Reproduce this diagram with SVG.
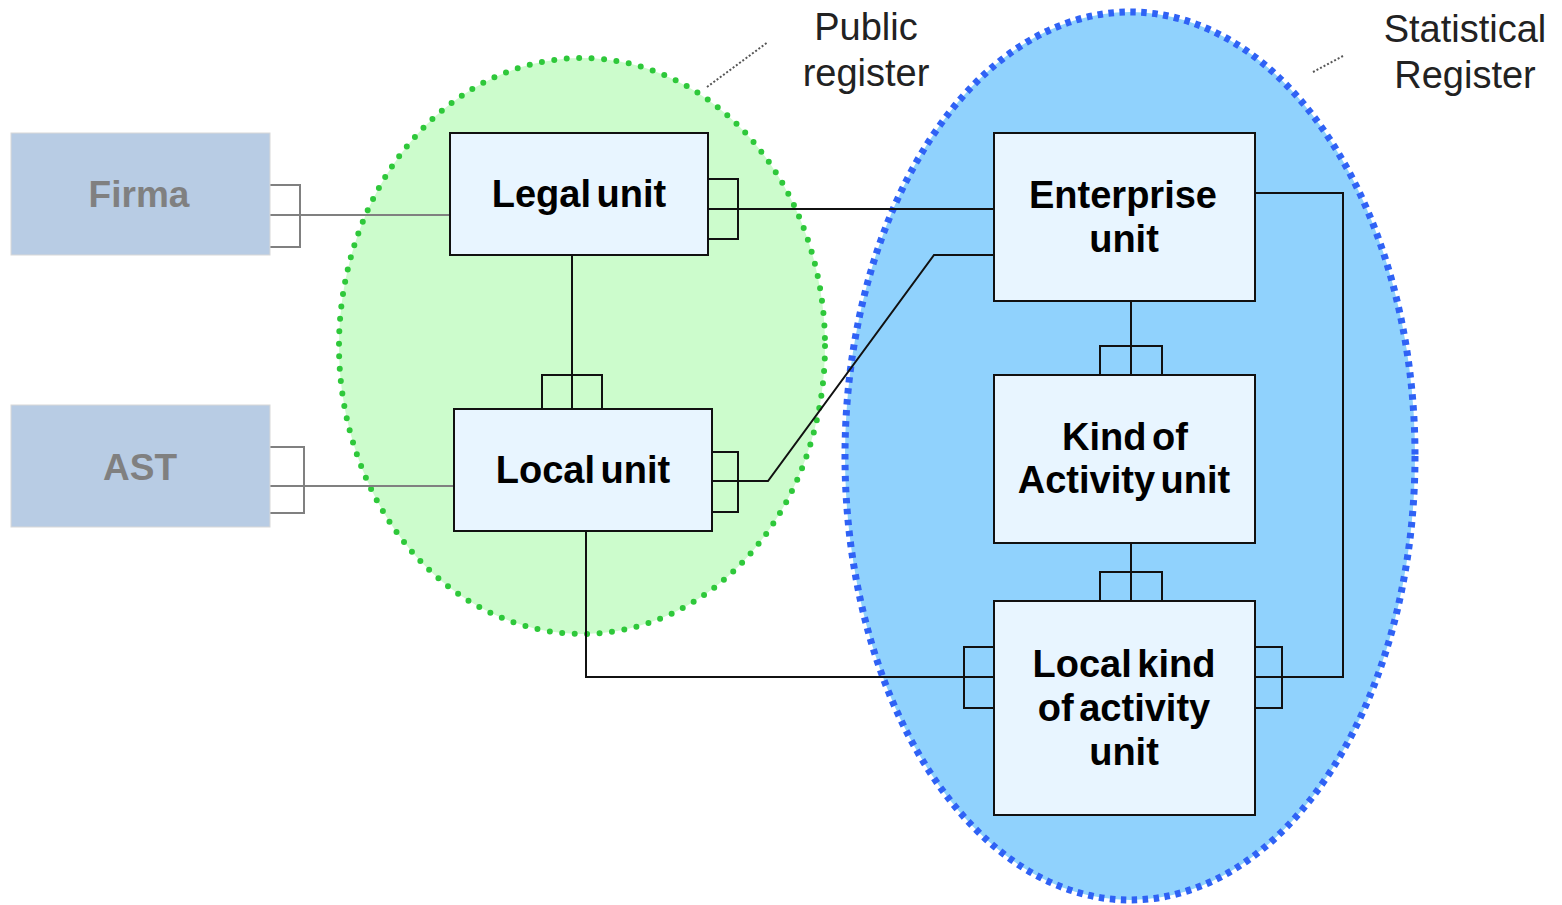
<svg xmlns="http://www.w3.org/2000/svg" width="1562" height="905" viewBox="0 0 1562 905">
<style>
.box{fill:#e8f5ff;stroke:#111;stroke-width:2}
.ext{fill:#b8cce4;stroke:#d8d8d8;stroke-width:1}
.lbl{font-family:"Liberation Sans",Arial,sans-serif;font-weight:bold;font-size:38px;fill:#000;text-anchor:middle;word-spacing:-5px}
.extlbl{font-family:"Liberation Sans",Arial,sans-serif;font-weight:bold;font-size:37px;fill:#808080;text-anchor:middle}
.note{font-family:"Liberation Sans",Arial,sans-serif;font-size:38px;fill:#222;text-anchor:middle}
.ln{fill:none;stroke:#111;stroke-width:2}
.gln{fill:none;stroke:#808080;stroke-width:2}
.lead{fill:none;stroke:#555;stroke-width:2;stroke-dasharray:2 2}
</style>
<rect width="1562" height="905" fill="#fff"/>
<g id="public-register">
<ellipse cx="582" cy="346" rx="243" ry="288" fill="#ccfccc" stroke="#2ec83a" stroke-width="6" stroke-dasharray="0 12.5" stroke-linecap="round"/>
</g>
<g id="statistical-register">
<ellipse cx="1130" cy="456" rx="285" ry="444" fill="#90d2fd" stroke="#2f62f5" stroke-width="7" stroke-dasharray="5.5 5.5"/>
</g>
<g id="labels">
<text class="note" x="866" y="40">Public</text>
<text class="note" x="866" y="86">register</text>
<text class="note" x="1465" y="42">Statistical</text>
<text class="note" x="1465" y="88">Register</text>
<path class="lead" d="M707 87 L768 42"/>
<path class="lead" d="M1313 72 L1343 56"/>
</g>
<g id="connectors">
<path class="gln" d="M270 185 H300 V247 H270 M270 215 H450"/>
<path class="gln" d="M270 447 H304 V513 H270 M270 486 H454"/>
<path class="ln" d="M708 179 H738 V239 H708 M708 209 H994"/>
<path class="ln" d="M572 255 V409 M542 409 V375 H602 V409"/>
<path class="ln" d="M712 452 H738 V512 H712 M712 481 H768 L934 255 H994"/>
<path class="ln" d="M1131 301 V375 M1100 375 V346 H1162 V375"/>
<path class="ln" d="M1131 543 V601 M1100 601 V572 H1162 V601"/>
<path class="ln" d="M586 531 V677 H994 M994 647 H964 V708 H994"/>
<path class="ln" d="M1255 193 H1343 V677 H1255 M1255 647 H1282 V708 H1255"/>
</g>
<g id="firma">
<rect class="ext" x="11" y="133" width="259" height="122"/>
<text class="extlbl" x="139" y="207">Firma</text>
</g>
<g id="ast">
<rect class="ext" x="11" y="405" width="259" height="122"/>
<text class="extlbl" x="140" y="480">AST</text>
</g>
<g id="legal-unit">
<rect class="box" x="450" y="133" width="258" height="122"/>
<text class="lbl" x="579" y="207">Legal unit</text>
</g>
<g id="local-unit">
<rect class="box" x="454" y="409" width="258" height="122"/>
<text class="lbl" x="583" y="483">Local unit</text>
</g>
<g id="enterprise-unit">
<rect class="box" x="994" y="133" width="261" height="168"/>
<text class="lbl" x="1123" y="208">Enterprise</text>
<text class="lbl" x="1124" y="252">unit</text>
</g>
<g id="kind-of-activity-unit">
<rect class="box" x="994" y="375" width="261" height="168"/>
<text class="lbl" x="1125" y="450">Kind of</text>
<text class="lbl" x="1124" y="493">Activity unit</text>
</g>
<g id="local-kind-of-activity-unit">
<rect class="box" x="994" y="601" width="261" height="214"/>
<text class="lbl" x="1124" y="677">Local kind</text>
<text class="lbl" x="1124" y="721">of activity</text>
<text class="lbl" x="1124" y="765">unit</text>
</g>
</svg>
